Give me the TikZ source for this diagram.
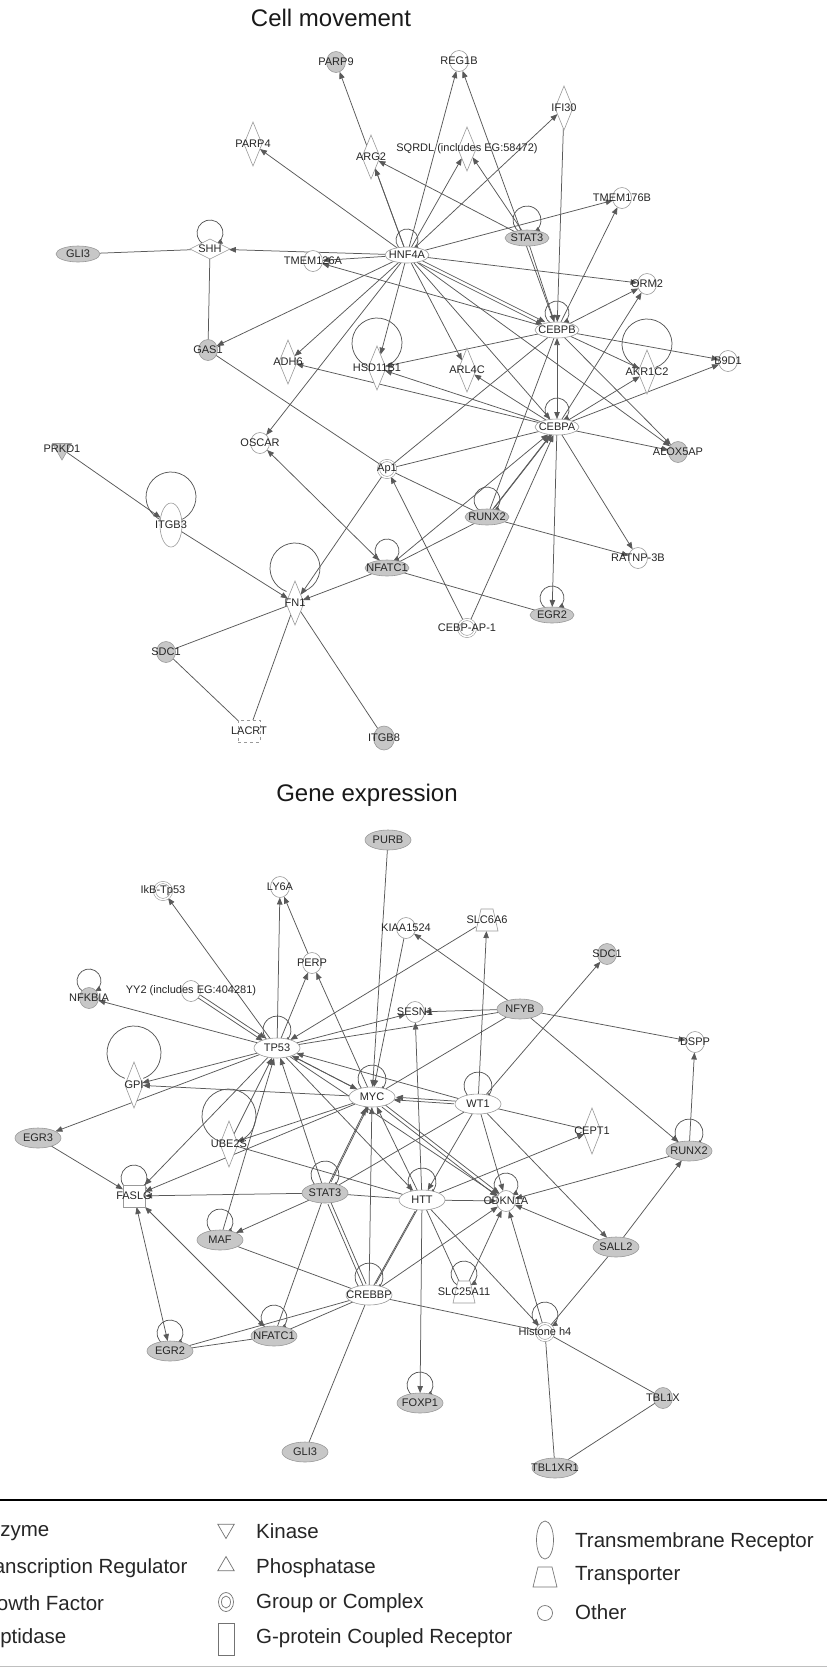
\documentclass[tikz,border=0pt]{standalone}
\usepackage{fontspec}
\setmainfont{Liberation Sans}
\usetikzlibrary{shapes.geometric,arrows.meta,calc}
\pgfdeclarelayer{bg}
\pgfdeclarelayer{back}
\pgfsetlayers{back,bg,main}
\tikzset{
 nd/.style={draw=black!40, line width=0.6pt, inner sep=0pt, outer sep=0pt, fill=white},
 ellA/.style={nd, ellipse, minimum width=44pt, minimum height=16pt},
 gellA/.style={ellA, fill=black!22},
 ellB/.style={nd, ellipse, minimum width=46pt, minimum height=20pt},
 gellB/.style={ellB, fill=black!22},
 oth/.style={nd, ellipse, minimum width=19pt, minimum height=21pt},
 goth/.style={oth, fill=black!22},
 enz/.style={nd, diamond, minimum width=18pt, minimum height=44pt},
 enzB/.style={enz, minimum height=46pt},
 pep/.style={nd, diamond, minimum width=40pt, minimum height=20pt},
 grp/.style={nd, circle, minimum size=17pt, double=white, double distance=1.5pt},
 kin/.style={nd, regular polygon, regular polygon sides=3, shape border rotate=180, minimum size=22pt, fill=black!22},
 tm/.style={nd, ellipse, minimum width=22pt, minimum height=44pt},
 gtm/.style={nd, ellipse, minimum width=21pt, minimum height=24pt, fill=black!22},
 gf/.style={nd, rectangle, minimum size=22pt, dashed},
 cyt/.style={nd, rectangle, minimum size=22pt},
 tbox/.style={rectangle, inner sep=0pt, outer sep=0pt, minimum width=22pt, minimum height=22pt},
 lab/.style={font=\fontsize{11}{12}\selectfont, text=black!85, inner sep=0pt},
 ttl/.style={font=\fontsize{24}{26}\selectfont, text=black!90},
 leg/.style={font=\fontsize{20.5}{22}\selectfont, text=black!85, inner sep=0pt, anchor=west},
 legic/.style={draw=black!55, line width=0.7pt, inner sep=0pt, fill=white},
 ln/.style={draw=black!65, line width=0.75pt},
 arr/.style={ln, -{Triangle[length=7pt,width=5.5pt]}},
 dar/.style={ln, {Triangle[length=7pt,width=5.5pt]}-{Triangle[length=7pt,width=5.5pt]}},
 larr/.style={ln, -{Triangle[length=6pt,width=5pt]}},
}
\newcommand{\gn}[5]{\node[#1] (#2) at (#3,-#4) {}; \node[lab] (#2-t) at (#2) {#5};}
\newcommand{\gtr}[4]{\node[tbox] (#1) at (#2,-#3) {};
 \draw[nd] ($(#1)+(-11,-11)$) -- ($(#1)+(11,-11)$) -- ($(#1)+(6,11)$) -- ($(#1)+(-6,11)$) -- cycle;
 \node[lab] (#1-t) at (#1) {#4};}
\newcommand{\EA}[2]{\draw[arr] (#1) -- (#2);}
\newcommand{\EL}[2]{\draw[ln] (#1) -- (#2);}
\newcommand{\ED}[2]{\draw[dar] (#1) -- (#2);}
\newcommand{\EAA}[2]{\draw[arr,transform canvas={shift={(1.3pt,1.3pt)}}] (#1) -- (#2); \draw[arr,transform canvas={shift={(-1.3pt,-1.3pt)}}] (#1) -- (#2);}
\newcommand{\ELL}[2]{\draw[ln,transform canvas={shift={(1.3pt,1.3pt)}}] (#1) -- (#2); \draw[ln,transform canvas={shift={(-1.3pt,-1.3pt)}}] (#1) -- (#2);}
\newcommand{\selfloop}[3]{\draw[larr] ($(#1)+(0,#2)$) ++(240:#3) arc[start angle=240,end angle=-60,radius=#3];}
\newcommand{\bigloop}[3]{\draw[ln] ($(#1)+(0,#2)$) ++(250:#3) arc[start angle=250,end angle=-70,radius=#3];}
\begin{document}
\begin{tikzpicture}[x=1pt,y=1pt]
\useasboundingbox (0,0) rectangle (827,-1668);
\begin{pgfonlayer}{back}
\fill[white] (0,0) rectangle (827,-1668);
\end{pgfonlayer}

\node[ttl] (t1) at (331,-18) {Cell movement};
\node[ttl] (t2) at (367,-795) {Gene expression};

% ---------------- top network nodes
\gn{goth}{parpnine}{336}{62}{PARP9}
\gn{oth}{regb}{459}{61}{REG1B}
\gn{enz}{ifi}{564}{108}{IFI30}
\gn{enz}{parpf}{253}{144}{PARP4}
\gn{enz}{arg}{371}{157}{ARG2}
\gn{enz}{sqrdl}{467}{149}{SQRDL (includes EG:58472)}
\gn{oth}{tmemb}{622}{198}{TMEM176B}
\gn{gellA}{statA}{527}{238}{STAT3}
\gn{ellA}{hnf}{407}{255}{HNF4A}
\gn{pep}{shh}{210}{249}{SHH}
\gn{gellA}{gliA}{78}{254}{GLI3}
\gn{oth}{tmema}{313}{261}{TMEM126A}
\gn{oth}{orm}{647}{284}{ORM2}
\gn{ellA}{cebpb}{557}{330}{CEBPB}
\gn{goth}{gas}{208}{350}{GAS1}
\gn{enz}{adh}{288}{362}{ADH6}
\gn{enz}{hsd}{377}{368}{HSD11B1}
\gn{enz}{arl}{467}{370}{ARL4C}
\gn{enz}{akr}{647}{372}{AKR1C2}
\gn{oth}{bnine}{728}{361}{B9D1}
\gn{ellA}{cebpa}{557}{427}{CEBPA}
\gn{oth}{oscar}{260}{443}{OSCAR}
\gn{kin}{prkd}{62}{449}{PRKD1}
\gn{goth}{alox}{678}{452}{ALOX5AP}
\gn{grp}{apone}{387}{469}{Ap1}
\gn{tm}{itgbt}{171}{525}{ITGB3}
\gn{gellA}{runxA}{487}{517}{RUNX2}
\gn{oth}{ratnp}{638}{558}{RATNP-3B}
\gn{gellA}{nfatA}{387}{568}{NFATC1}
\gn{enz}{fn}{295}{603}{FN1}
\gn{gellA}{egrA}{552}{615}{EGR2}
\gn{grp}{cebpap}{467}{628}{CEBP-AP-1}
\gn{goth}{sdcA}{166}{652}{SDC1}
\gn{gf}{lacrt}{249}{731}{LACRT}
\gn{gtm}{itgbe}{384}{738}{ITGB8}

% ---------------- bottom network nodes
\gn{gellB}{purb}{388}{840}{PURB}
\gn{grp}{ikb}{163}{891}{IkB-Tp53}
\gn{oth}{lysix}{280}{887}{LY6A}
\gn{oth}{kiaa}{406}{928}{KIAA1524}
\gtr{slcsix}{487}{920}{SLC6A6}
\gn{goth}{sdcB}{607}{954}{SDC1}
\gn{oth}{perp}{312}{963}{PERP}
\gn{goth}{nfkbia}{89}{998}{NFKBIA}
\gn{oth}{yy}{191}{991}{YY2 (includes EG:404281)}
\gn{oth}{sesn}{415}{1012}{SESN1}
\gn{gellB}{nfyb}{520}{1009}{NFYB}
\gn{oth}{dspp}{695}{1042}{DSPP}
\gn{ellB}{tp}{277}{1048}{TP53}
\gn{enzB}{gpi}{134}{1085}{GPI}
\gn{ellB}{myc}{372}{1097}{MYC}
\gn{ellB}{wt}{478}{1104}{WT1}
\gn{enzB}{cept}{592}{1131}{CEPT1}
\gn{gellB}{egrt}{38}{1138}{EGR3}
\gn{enzB}{ube}{229}{1144}{UBE2S}
\gn{gellB}{runxB}{689}{1151}{RUNX2}
\gn{cyt}{faslg}{134}{1196}{FASLG}
\gn{gellB}{statB}{325}{1193}{STAT3}
\gn{ellB}{htt}{422}{1200}{HTT}
\gn{oth}{cdkn}{506}{1201}{CDKN1A}
\gn{gellB}{maf}{220}{1240}{MAF}
\gn{gellB}{sall}{616}{1247}{SALL2}
\gn{ellB}{crebbp}{369}{1295}{CREBBP}
\gtr{slctw}{464}{1292}{SLC25A11}
\gn{grp}{hist}{545}{1332}{Histone h4}
\gn{gellB}{egrB}{170}{1351}{EGR2}
\gn{gellB}{nfatB}{274}{1336}{NFATC1}
\gn{gellB}{foxp}{420}{1403}{FOXP1}
\gn{goth}{tblx}{663}{1398}{TBL1X}
\gn{gellB}{gliB}{305}{1452}{GLI3}
\gn{gellB}{tblxr}{555}{1468}{TBL1XR1}

\begin{pgfonlayer}{bg}
% ---- top edges
\EA{hnf}{parpnine}
\EA{hnf}{regb}
\EA{cebpb}{regb}
\EA{hnf}{ifi}
\EA{ifi}{cebpb}
\EA{hnf}{arg}
\EA{statA}{arg}
\EA{hnf}{sqrdl}
\EA{statA}{sqrdl}
\EA{hnf}{parpf}
\EA{hnf}{tmemb}
\EA{cebpb}{tmemb}
\EA{hnf}{orm}
\EA{cebpb}{orm}
\EA{cebpa}{orm}
\EAA{hnf}{cebpb}
\EA{statA}{cebpb}
\EA{cebpb}{tmema}
\EA{hnf}{tmema}
\EA{hnf}{shh}
\EL{gliA}{shh}
\EL{shh}{gas}
\EA{hnf}{gas}
\EA{hnf}{adh}
\EA{hnf}{hsd}
\EA{hnf}{arl}
\EA{hnf}{oscar}
\EA{hnf}{cebpa}
\EA{hnf}{alox}
\EA{cebpb}{hsd}
\EA{cebpa}{hsd}
\EA{cebpa}{adh}
\EA{cebpa}{arl}
\ED{cebpb}{cebpa}
\EA{cebpb}{akr}
\EA{cebpb}{bnine}
\EA{cebpa}{akr}
\EA{cebpa}{bnine}
\EA{cebpb}{alox}
\EA{cebpa}{alox}
\EL{cebpb}{runxA}
\EL{cebpb}{apone}
\EL{cebpa}{apone}
\EL{apone}{runxA}
\EA{apone}{fn}
\EA{cebpap}{apone}
\EA{cebpap}{cebpa}
\EAA{runxA}{cebpa}
\EA{nfatA}{cebpa}
\EL{runxA}{nfatA}
\EA{runxA}{ratnp}
\EA{cebpa}{ratnp}
\EA{cebpa}{egrA}
\EL{nfatA}{egrA}
\EA{nfatA}{fn}
\ED{oscar}{nfatA}
\EL{gas}{apone}
\EA{prkd}{itgbt}
\EA{itgbt}{fn}
\EL{sdcA}{fn}
\EL{sdcA}{lacrt}
\EL{lacrt}{fn}
\EL{fn}{itgbe}
% top loops
\selfloop{hnf}{15}{11}
\selfloop{shh}{16}{13}
\selfloop{statA}{18}{14}
\selfloop{cebpb}{17}{12}
\selfloop{cebpa}{17}{12}
\bigloop{hsd}{25}{25}
\bigloop{akr}{28}{25}
\bigloop{itgbt}{28}{25}
\bigloop{fn}{35}{25}
\selfloop{runxA}{17}{13}
\selfloop{nfatA}{17}{12}
\selfloop{egrA}{17}{12}

% ---- bottom edges
\EA{tp}{ikb}
\EA{tp}{lysix}
\EA{perp}{lysix}
\EA{tp}{perp}
\EA{myc}{perp}
\EAA{yy}{tp}
\EA{tp}{nfkbia}
\EA{tp}{sesn}
\EL{nfyb}{tp}
\EA{slcsix}{tp}
\EA{tp}{gpi}
\EA{myc}{gpi}
\EA{tp}{egrt}
\EA{tp}{myc}
\EA{myc}{tp}
\EA{wt}{tp}
\EAA{wt}{myc}
\EA{myc}{ube}
\EA{ube}{tp}
\EA{tp}{faslg}
\EA{myc}{faslg}
\EA{purb}{myc}
\EA{kiaa}{myc}
\EA{nfyb}{kiaa}
\EA{nfyb}{sesn}
\EA{nfyb}{dspp}
\EA{nfyb}{runxB}
\EL{nfyb}{myc}
\EA{wt}{slcsix}
\EA{wt}{sdcB}
\EL{wt}{cept}
\EA{htt}{cept}
\EA{runxB}{dspp}
\EA{htt}{sesn}
\EA{htt}{myc}
\EAA{statB}{myc}
\EA{statB}{tp}
\EA{tp}{htt}
\EL{ube}{htt}
\EA{egrt}{faslg}
\EA{statB}{faslg}
\ED{faslg}{nfatB}
\ED{faslg}{egrB}
\EA{statB}{maf}
\EA{maf}{tp}
\EL{maf}{crebbp}
\EL{statB}{htt}
\ELL{statB}{crebbp}
\EL{statB}{nfatB}
\EA{crebbp}{myc}
\ELL{htt}{crebbp}
\EL{crebbp}{hist}
\EA{crebbp}{cdkn}
\EL{crebbp}{egrB}
\EL{crebbp}{nfatB}
\EL{egrB}{nfatB}
\EL{crebbp}{gliB}
\EA{htt}{foxp}
\EA{htt}{hist}
\EL{htt}{slctw}
\EA{slctw}{cdkn}
\EA{hist}{cdkn}
\EA{sall}{cdkn}
\EA{sall}{runxB}
\EL{sall}{hist}
\EA{runxB}{cdkn}
\EA{wt}{sall}
\EL{hist}{tblx}
\EL{hist}{tblxr}
\EL{tblx}{tblxr}
\EA{htt}{cdkn}
\EAA{myc}{cdkn}
\EA{wt}{cdkn}
\EL{wt}{statB}
\EA{wt}{htt}
\EA{tp}{cdkn}
% bottom loops
\selfloop{nfkbia}{17}{12}
\selfloop{tp}{18}{14}
\bigloop{gpi}{32}{27}
\bigloop{ube}{28}{27}
\selfloop{myc}{18}{14}
\selfloop{wt}{18}{14}
\selfloop{runxB}{18}{14}
\selfloop{faslg}{18}{13}
\selfloop{statB}{18}{14}
\selfloop{htt}{18}{14}
\selfloop{cdkn}{16}{12}
\selfloop{maf}{18}{13}
\selfloop{crebbp}{18}{14}
\selfloop{slctw}{18}{13}
\selfloop{hist}{17}{13}
\selfloop{egrB}{18}{13}
\selfloop{nfatB}{18}{13}
\selfloop{foxp}{18}{13}
\end{pgfonlayer}

% ---------------- legend
\draw[line width=2.5pt, black] (0,-1500) -- (827,-1500);
\draw[line width=0.8pt, black!25] (0,-1666) -- (827,-1666);
\begin{scope}
\clip (0,-1505) rectangle (827,-1660);
\node[leg] (l1) at (-25,-1532) {Enzyme};
\node[leg] (l2) at (-25,-1568) {Transcription Regulator};
\node[leg] (l3) at (-26,-1603) {Growth Factor};
\node[leg] (l4) at (-25,-1638) {Peptidase};
\end{scope}

\node[legic, regular polygon, regular polygon sides=3, shape border rotate=180, minimum size=19pt] (ik) at (226,-1529) {};
\node[legic, regular polygon, regular polygon sides=3, minimum size=19pt] (ip) at (226,-1566) {};
\node[legic, ellipse, minimum width=15pt, minimum height=19pt] (ig) at (226,-1602) {};
\node[legic, ellipse, minimum width=9pt, minimum height=12pt] (ig2) at (226,-1602) {};
\node[legic, rectangle, minimum width=16pt, minimum height=32pt] (ir) at (226,-1639) {};
\node[leg] (m1) at (256,-1531) {Kinase};
\node[leg] (m2) at (256,-1568) {Phosphatase};
\node[leg] (m3) at (256,-1603) {Group or Complex};
\node[leg] (m4) at (256,-1638) {G-protein Coupled Receptor};

\node[legic, ellipse, minimum width=17pt, minimum height=38pt] (it) at (545,-1540) {};
\coordinate (itr) at (545,-1577);
\draw[draw=black!55, line width=0.7pt] ($(itr)+(-12,-10)$) -- ($(itr)+(12,-10)$) -- ($(itr)+(7,10)$) -- ($(itr)+(-7,10)$) -- cycle;
\node[legic, circle, minimum size=15pt] (io) at (545,-1613) {};
\node[leg] (r1) at (575,-1542) {Transmembrane Receptor};
\node[leg] (r2) at (575,-1576) {Transporter};
\node[leg] (r3) at (575,-1612) {Other};
\end{tikzpicture}
\end{document}
